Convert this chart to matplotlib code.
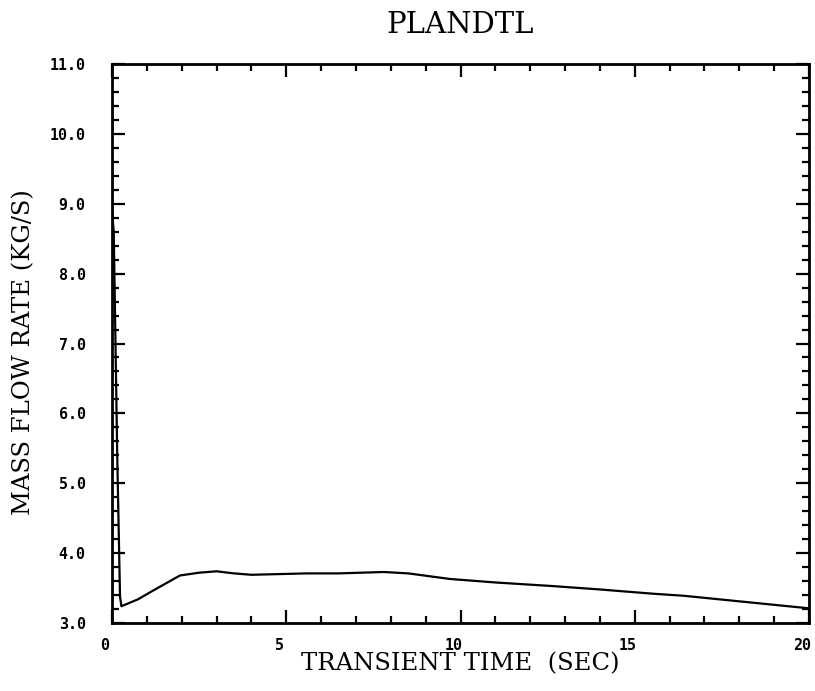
import matplotlib
matplotlib.use("Agg")
import matplotlib.pyplot as plt
from matplotlib.ticker import MultipleLocator, FormatStrFormatter
import matplotlib.transforms as mtransforms

# Data
time_s = [0.0, 0.05, 0.15, 0.23, 0.27, 0.75, 1.2, 1.95, 2.5, 3.0, 3.5, 4.0, 4.8,
          5.6, 6.5, 7.8, 8.5, 9.7, 11.0, 12.6, 14.0, 15.5, 16.4, 18.0, 20.0]
mass_flow = [8.9, 8.6, 5.4, 3.38, 3.24, 3.34, 3.47, 3.68, 3.72, 3.74, 3.71, 3.69, 3.70,
             3.71, 3.71, 3.73, 3.71, 3.63, 3.58, 3.53, 3.48, 3.42, 3.39, 3.31, 3.21]

title = "PLANDTL"
xlabel = "TRANSIENT TIME  (SEC)"
ylabel = "MASS FLOW RATE (KG/S)"

fig = plt.figure(figsize=(8.15, 6.91), dpi=100)
ax = fig.add_axes([112/815, 1-623/691, (809-112)/815, (623-64)/691])

ax.plot(time_s, mass_flow, color="black", lw=1.6)
ax.set_xlim(0, 20)
ax.set_ylim(3.0, 11.0)

ax.xaxis.set_major_locator(MultipleLocator(5))
ax.xaxis.set_minor_locator(MultipleLocator(1))
ax.yaxis.set_major_locator(MultipleLocator(1))
ax.yaxis.set_minor_locator(MultipleLocator(0.2))
ax.yaxis.set_major_formatter(FormatStrFormatter("%.1f"))
ax.xaxis.set_major_formatter(FormatStrFormatter("%d"))

ax.tick_params(which="both", direction="in", top=True, right=True, width=1.6)
ax.tick_params(which="major", length=9.5)
ax.tick_params(which="minor", length=5)
ax.tick_params(axis="y", which="major", pad=19)
ax.tick_params(axis="x", which="major", pad=11)
for sp in ax.spines.values():
    sp.set_linewidth(2.0)

for lab in ax.get_yticklabels() + ax.get_xticklabels():
    lab.set_fontfamily("DejaVu Sans Mono")
    lab.set_fontweight("bold")
    lab.set_fontsize(10.8)

offset = mtransforms.ScaledTranslation(-7/100, 0, fig.dpi_scale_trans)
for lab in ax.get_xticklabels():
    lab.set_transform(lab.get_transform() + offset)

ax.set_title(title, fontfamily="DejaVu Serif", fontsize=21, pad=22)
ax.set_xlabel(xlabel, fontfamily="DejaVu Serif", fontsize=17.5, labelpad=-1)
ax.set_ylabel(ylabel, fontfamily="DejaVu Serif", fontsize=17.5)
ax.yaxis.set_label_coords(-0.11, 0.485)

fig.savefig("out.png", dpi=100)
